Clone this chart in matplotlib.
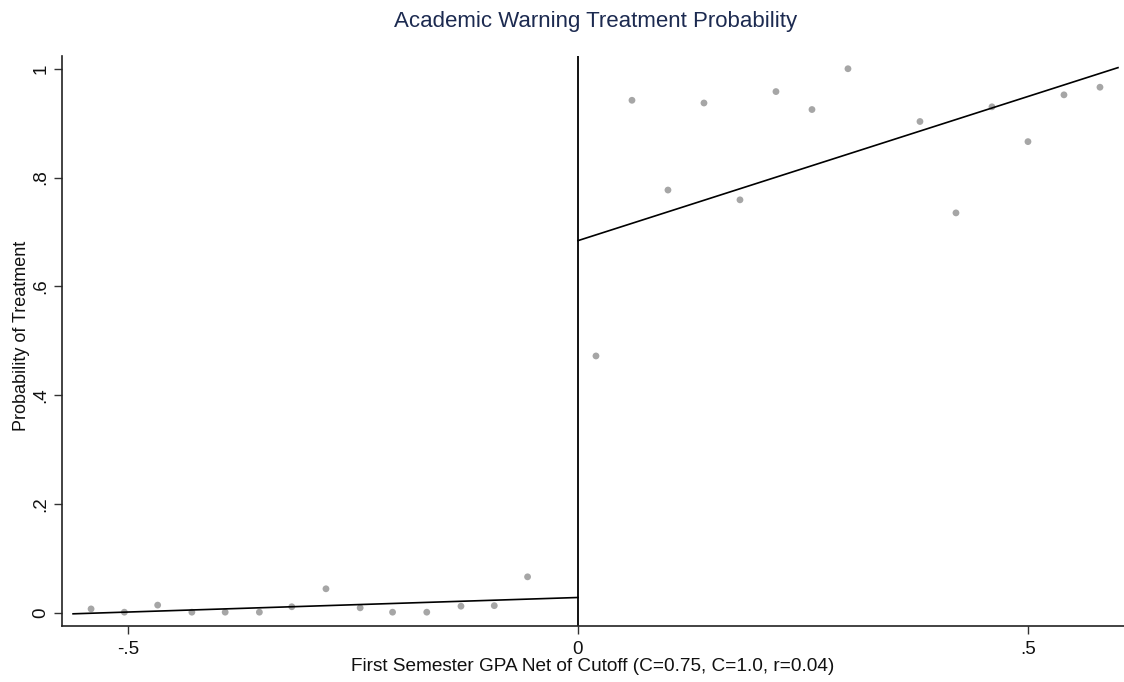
import numpy as np
import matplotlib
matplotlib.use("Agg")
import matplotlib.pyplot as plt

plt.rcParams['font.family'] = ['Liberation Sans', 'DejaVu Sans']

# Binned means of treatment, below and above the cutoff
x_below = [-0.541, -0.504, -0.467, -0.429, -0.392, -0.354, -0.318,
           -0.280, -0.242, -0.206, -0.168, -0.130, -0.093, -0.056]
y_below = [0.007, 0.001, 0.014, 0.001, 0.001, 0.001, 0.011,
           0.044, 0.009, 0.001, 0.001, 0.012, 0.013, 0.066]
x_above = [0.02, 0.06, 0.10, 0.14, 0.18, 0.22, 0.26,
           0.30, 0.38, 0.42, 0.46, 0.50, 0.54, 0.58]
y_above = [0.472, 0.942, 0.777, 0.937, 0.759, 0.958, 0.925,
           1.000, 0.903, 0.735, 0.930, 0.866, 0.952, 0.966]

# Linear fits on each side of the cutoff (endpoints)
fit_below_x = [-0.561, 0.0]
fit_below_y = [-0.002, 0.028]
fit_above_x = [0.0, 0.600]
fit_above_y = [0.684, 1.002]

x_ticks = [-0.5, 0, 0.5]
x_tick_labels = ["-.5", "0", ".5"]
y_ticks = [0, 0.2, 0.4, 0.6, 0.8, 1.0]
y_tick_labels = ["0", ".2", ".4", ".6", ".8", "1"]

fig = plt.figure(figsize=(11.24, 6.82), dpi=100)
ax = fig.add_axes([62 / 1124, 1 - 626 / 682, 1 - 62 / 1124, (626 - 56) / 682])

ax.scatter(x_below, y_below, s=24, color="#a6a6a6", edgecolors="none", zorder=3)
ax.scatter(x_above, y_above, s=24, color="#a6a6a6", edgecolors="none", zorder=3)
ax.plot(fit_below_x, fit_below_y, color="black", lw=1.2, zorder=4)
ax.plot(fit_above_x, fit_above_y, color="black", lw=1.2, zorder=4)
ax.axvline(0, color="black", lw=1.3, zorder=2)

ax.set_xlim(-0.5733, 0.6067)
ax.set_ylim(-0.0244, 1.0234)

ax.set_xticks(x_ticks)
ax.set_xticklabels(x_tick_labels)
ax.set_yticks(y_ticks)
ax.set_yticklabels(y_tick_labels, rotation=90, va="center")
ax.tick_params(axis="both", labelsize=13.5, length=6, width=1, color="#333333",
               labelcolor="#111111")
ax.tick_params(axis="y", pad=3)
ax.tick_params(axis="x", pad=5)

for side in ("top", "right"):
    ax.spines[side].set_visible(False)
for side in ("left", "bottom"):
    ax.spines[side].set_color("#222222")
    ax.spines[side].set_linewidth(1.2)

ax.set_xlabel("First Semester GPA Net of Cutoff (C=0.75, C=1.0, r=0.04)",
              fontsize=13.7, color="#111111", labelpad=0)
ax.set_ylabel("Probability of Treatment", fontsize=13, color="#111111")
ax.yaxis.set_label_coords(-0.030, 0.509)
fig.text(0.530, 0.969, "Academic Warning Treatment Probability", ha="center",
         va="center", fontsize=16, color="#1c2a50")

fig.savefig("out.png", dpi=100)
